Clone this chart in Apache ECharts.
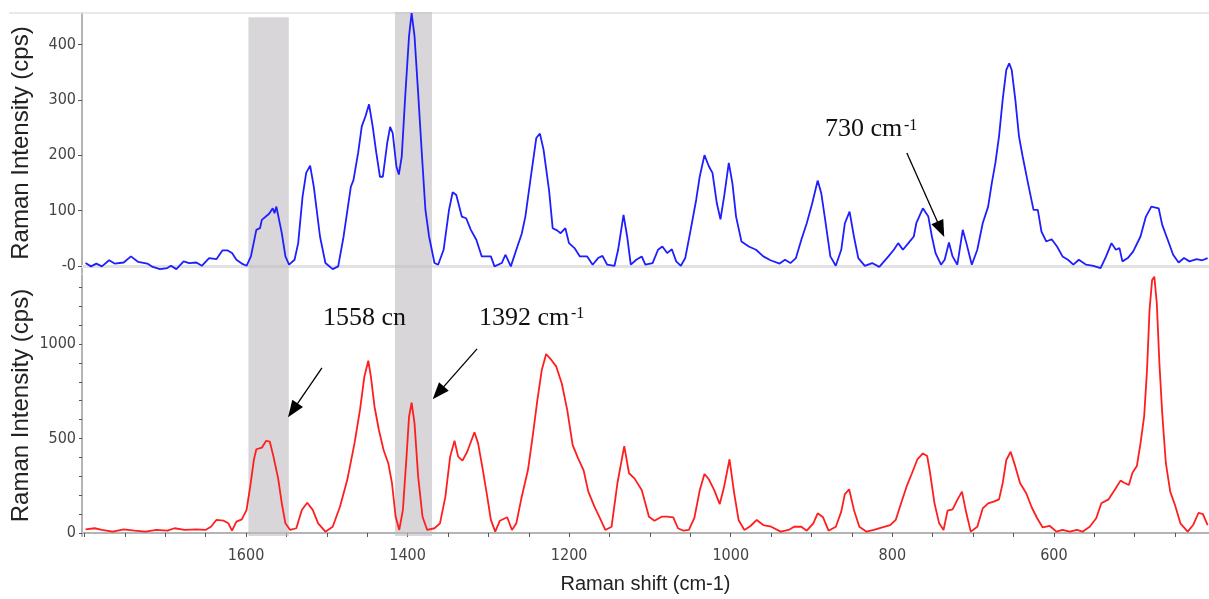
<!DOCTYPE html>
<html>
<head>
<meta charset="utf-8">
<script src="https://cdn.jsdelivr.net/npm/echarts@6/dist/echarts.min.js"></script>
<style>
  html, body { margin: 0; padding: 0; background: #fff; }
  #chart { width: 1209px; height: 599px; }
</style>
</head>
<body>
<div id="chart"></div>
<script>
// 上图（蓝）: 拉曼位移 / 强度
let blueShift = [
    1798.6, 1791.9, 1785.2, 1778.4, 1769.4, 1762.6, 1751.4, 1742.4, 1733.4, 1722.2,
    1715.4, 1706.4, 1697.4, 1692.9, 1686.2, 1677.2, 1670.4, 1661.4, 1654.7, 1645.7,
    1636.7, 1629.0, 1623.2, 1617.3, 1611.9, 1605.2, 1599.3, 1593.9, 1587.2, 1582.7,
    1580.4, 1571.4, 1566.9, 1564.7, 1562.4, 1555.7, 1551.2, 1546.7, 1539.9, 1535.4,
    1530.0, 1525.5, 1520.6, 1516.1, 1508.4, 1501.7, 1492.7, 1485.9, 1479.2, 1470.2,
    1467.0, 1461.2, 1456.7, 1452.2, 1447.7, 1443.2, 1438.7, 1434.2, 1430.6, 1425.2,
    1421.6, 1418.4, 1413.9, 1410.8, 1407.2, 1402.7, 1398.2, 1395.0, 1391.4, 1386.9,
    1382.4, 1377.9, 1373.4, 1366.7, 1362.2, 1355.4, 1348.7, 1344.2, 1339.7, 1332.9,
    1327.5, 1321.7, 1314.9, 1308.2, 1296.9, 1292.4, 1283.4, 1278.9, 1272.2, 1265.4,
    1258.7, 1254.2, 1247.4, 1240.7, 1236.2, 1231.7, 1224.9, 1220.4, 1215.0, 1210.5,
    1204.7, 1200.2, 1193.4, 1186.7, 1177.7, 1170.9, 1164.2, 1158.8, 1152.9, 1143.9,
    1139.4, 1132.7, 1128.2, 1123.7, 1116.9, 1110.2, 1105.7, 1096.7, 1090.0, 1084.6,
    1078.7, 1072.9, 1067.5, 1061.7, 1056.3, 1049.6, 1042.8, 1038.3, 1032.5, 1027.1,
    1022.6, 1017.2, 1012.7, 1008.2, 1002.4, 997.9, 993.4, 986.7, 977.7, 968.7,
    959.7, 950.8, 939.5, 932.8, 926.1, 919.3, 912.6, 905.9, 899.1, 892.4,
    887.9, 882.5, 876.7, 870.0, 863.2, 858.7, 852.9, 847.5, 842.1, 834.0,
    825.0, 816.1, 804.8, 798.1, 792.7, 786.9, 780.1, 773.4, 770.3, 762.2,
    755.4, 751.0, 746.5, 739.7, 735.2, 729.9, 725.4, 719.5, 712.8, 708.3,
    701.6, 694.8, 688.1, 681.4, 676.9, 672.4, 667.9, 663.4, 658.9, 655.3,
    652.2, 647.7, 643.2, 638.7, 632.0, 625.2, 619.9, 615.4, 609.5, 602.8,
    596.1, 589.3, 582.6, 575.9, 569.1, 560.1, 551.2, 542.2, 535.4, 528.7,
    523.3, 518.8, 515.2, 508.5, 501.8, 492.8, 486.1, 479.3, 470.3, 465.9,
    459.1, 452.4, 445.6, 438.9, 432.2, 423.2, 416.4, 409.7
];
let blueIntensity = [
    5, -1, 4, -1, 10, 4, 6, 17, 7, 4,
    -2, -6, -4, 0, -6, 8, 5, 6, 0, 14,
    12, 28, 28, 23, 11, 4, 0, 17, 65, 68,
    83, 94, 104, 95, 107, 59, 17, 2, 11, 41,
    125, 168, 181, 143, 53, 5, -6, -1, 53, 143,
    155, 204, 252, 270, 292, 252, 204, 161, 161, 222,
    251, 240, 180, 165, 198, 312, 415, 457, 415, 312,
    204, 101, 53, 5, 2, 29, 101, 133, 128, 89,
    86, 65, 47, 17, 17, -1, 5, 20, -1, 29,
    58, 89, 161, 231, 239, 210, 137, 68, 64, 59,
    68, 41, 32, 17, 17, 2, 14, 18, 2, 0,
    29, 92, 53, 2, 11, 17, 2, 5, 29, 35,
    23, 30, 8, 0, 14, 65, 119, 162, 200, 180,
    168, 113, 84, 125, 186, 149, 89, 44, 35, 29,
    17, 10, 4, 11, 5, 14, 47, 77, 113, 154,
    131, 77, 17, 0, 29, 77, 98, 53, 14, 0,
    5, -2, 17, 29, 41, 29, 41, 53, 77, 104,
    89, 53, 23, 2, 11, 42, 17, 2, 65, 41,
    2, 29, 77, 107, 149, 186, 234, 300, 354, 366,
    354, 300, 234, 198, 149, 101, 101, 62, 44, 48,
    35, 17, 11, 2, 11, 2, 0, -4, 17, 41,
    29, 32, 8, 14, 26, 53, 89, 107, 104, 74,
    47, 20, 6, 14, 8, 12, 10, 14
];

// 下图（红）
let redShift = [
    1798.6, 1787.4, 1778.4, 1764.9, 1751.4, 1737.9, 1724.4, 1710.9, 1697.4, 1688.4,
    1675.9, 1661.4, 1650.2, 1643.4, 1636.7, 1627.7, 1621.8, 1617.3, 1611.9, 1605.2,
    1599.3, 1594.8, 1590.3, 1587.2, 1580.4, 1575.0, 1570.5, 1566.0, 1560.2, 1555.7,
    1551.2, 1545.3, 1537.7, 1530.9, 1524.2, 1517.4, 1510.7, 1501.7, 1492.7, 1483.7,
    1474.7, 1465.7, 1458.9, 1453.5, 1448.6, 1445.4, 1440.9, 1435.5, 1429.7, 1423.8,
    1419.3, 1414.8, 1410.3, 1405.8, 1401.3, 1398.2, 1395.0, 1391.4, 1386.9, 1381.5,
    1375.7, 1366.7, 1359.9, 1353.2, 1347.3, 1341.9, 1337.4, 1332.0, 1326.2, 1317.2,
    1312.7, 1306.8, 1301.4, 1296.9, 1291.5, 1285.7, 1276.7, 1270.8, 1265.4, 1258.7,
    1251.0, 1245.2, 1239.3, 1233.9, 1228.5, 1222.7, 1215.9, 1209.2, 1202.4, 1195.7,
    1188.9, 1182.2, 1176.3, 1168.7, 1161.9, 1155.2, 1147.5, 1140.3, 1131.8, 1125.9,
    1119.2, 1110.2, 1107.9, 1101.2, 1094.4, 1085.5, 1078.7, 1071.1, 1065.3, 1058.5,
    1051.8, 1045.1, 1038.3, 1032.5, 1027.1, 1020.4, 1013.6, 1008.2, 1001.5, 995.7,
    990.3, 983.1, 975.5, 967.8, 959.7, 949.9, 938.2, 928.3, 921.6, 912.6,
    905.9, 897.8, 892.4, 885.7, 878.9, 869.9, 863.2, 858.7, 853.4, 847.5,
    840.8, 831.8, 822.8, 812.5, 802.6, 795.8, 789.1, 782.4, 775.7, 768.9,
    762.2, 756.8, 753.2, 747.8, 742.0, 736.6, 731.6, 725.4, 719.5, 713.8,
    708.3, 702.9, 694.8, 688.1, 681.4, 674.6, 667.9, 663.4, 658.9, 653.5,
    647.7, 641.8, 634.2, 627.5, 620.7, 614.0, 605.0, 596.9, 589.3, 580.4,
    571.4, 564.6, 555.7, 547.6, 541.3, 532.3, 524.2, 517.5, 513.0, 507.2,
    502.7, 497.3, 492.8, 488.3, 484.7, 481.6, 478.4, 475.7, 472.6, 469.4,
    465.9, 461.4, 456.0, 450.1, 443.4, 434.4, 427.7, 420.9, 415.5, 409.7
];
let redIntensity = [
    19, 25, 16, 7, 19, 12, 7, 16, 12, 25,
    16, 19, 16, 33, 69, 65, 51, 12, 60, 72,
    122, 245, 386, 443, 451, 488, 483, 404, 289, 157,
    51, 16, 25, 122, 160, 122, 51, 7, 33, 139,
    280, 474, 651, 827, 912, 827, 668, 545, 439, 368,
    263, 86, 16, 122, 404, 615, 690, 580, 298, 86,
    16, 25, 51, 192, 404, 488, 404, 383, 430, 533,
    474, 333, 192, 69, 7, 65, 83, 16, 51, 192,
    333, 510, 704, 862, 947, 919, 880, 792, 651, 466,
    395, 333, 219, 139, 78, 16, 33, 263, 460, 316,
    289, 227, 192, 86, 65, 86, 86, 83, 25, 12,
    16, 78, 227, 312, 284, 227, 153, 245, 390, 210,
    69, 16, 37, 69, 42, 33, 7, 16, 33, 33,
    12, 51, 104, 83, 12, 33, 113, 206, 231, 122,
    33, 7, 16, 30, 42, 69, 157, 245, 316, 390,
    421, 407, 316, 157, 51, 16, 118, 125, 175, 219,
    104, 7, 33, 130, 157, 166, 178, 263, 386, 430,
    351, 263, 210, 136, 78, 30, 37, 7, 16, 7,
    16, 7, 33, 78, 157, 178, 231, 277, 266, 254,
    319, 354, 474, 615, 862, 1180, 1339, 1356, 1215, 898,
    633, 369, 219, 148, 51, 7, 42, 107, 100, 42
];

// 刻度
let xTicks = [];
for (let v = 450; v <= 1800; v += 50) xTicks.push(v);
let xLabels = [600, 800, 1000, 1200, 1400, 1600];
let topTicks = [0, 100, 200, 300, 400];
let bottomTicks = [0, 100, 200, 300, 400, 500, 600, 700, 800, 900, 1000, 1100, 1200, 1300];
let bottomLabels = [0, 500, 1000];

// 灰色区域 [起, 止]
let bands = [[1597, 1547], [1415.6, 1369.8]];
let bandTops = [0.99, 1];

// 箭头 [起点, 终点]
let arrowsBottom = [
    [[1506, 873], [1542, 649]],
    [[1314, 974], [1362, 741]]
];
let arrowsTop = [
    [[782, 204], [740, 66]]
];

function pairs(xs, ys) {
    let out = [];
    for (let i = 0; i < xs.length; i++) out.push([xs[i], ys[i]]);
    return out;
}

let myChart = echarts.init(document.getElementById('chart'));

let tickFont = "'Liberation Sans Narrow', 'DejaVu Sans Condensed', sans-serif";
let axisGray = '#b4b4b4';

function arrowLines(list) {
    return list.map(a => [
        {coord: a[0], symbol: 'none'},
        {coord: a[1], symbol: 'triangle', symbolSize: [13, 17]}
    ]);
}

let gridBase = {left: 82, right: 0, containLabel: false, outerBoundsMode: 'none'};

let option = {
    animation: false,
    backgroundColor: '#fff',
    grid: [
        Object.assign({top: 13, height: 260}, gridBase),
        Object.assign({top: 275, height: 261}, gridBase),
        Object.assign({top: 12, height: 524}, gridBase)
    ],
    xAxis: [
        {
            type: 'value', gridIndex: 0, inverse: true, min: 408, max: 1803,
            axisLine: {lineStyle: {color: '#e2e2e2', width: 3}},
            axisTick: {show: false}, axisLabel: {show: false}, splitLine: {show: false}
        },
        {
            type: 'value', gridIndex: 1, inverse: true, min: 408, max: 1803,
            name: 'Raman shift (cm-1)', nameLocation: 'middle', nameGap: 38, nameMoveOverlap: false,
            nameTextStyle: {fontSize: 20, color: '#222', fontFamily: 'Liberation Sans'},
            axisLine: {lineStyle: {color: axisGray, width: 2}},
            axisTick: {customValues: xTicks, length: 4, lineStyle: {color: '#555'}},
            axisLabel: {
                customValues: xLabels, margin: 12, fontSize: 16, color: '#444', fontFamily: tickFont,
                formatter: v => String(v)
            },
            splitLine: {show: false}
        },
        {type: 'value', gridIndex: 2, inverse: true, min: 408, max: 1803, show: false}
    ],
    yAxis: [
        {
            type: 'value', gridIndex: 0, min: -13, max: 457,
            name: 'Raman Intensity (cps)', nameLocation: 'middle', nameGap: 49, nameMoveOverlap: false,
            nameTextStyle: {fontSize: 24, color: '#222', fontFamily: 'Liberation Sans'},
            axisLine: {show: true, lineStyle: {color: axisGray, width: 2}},
            axisTick: {show: true, customValues: topTicks, length: 4, lineStyle: {color: '#555'}},
            axisLabel: {
                customValues: topTicks, margin: 6, fontSize: 16, color: '#444', fontFamily: tickFont,
                formatter: v => v === 0 ? '-0' : String(v)
            },
            splitLine: {show: false}
        },
        {
            type: 'value', gridIndex: 1, min: -16, max: 1365,
            name: 'Raman Intensity (cps)', nameLocation: 'middle', nameGap: 49, nameMoveOverlap: false,
            nameTextStyle: {fontSize: 24, color: '#222', fontFamily: 'Liberation Sans'},
            axisLine: {show: true, lineStyle: {color: axisGray, width: 2}},
            axisTick: {show: true, customValues: bottomTicks, length: 3, lineStyle: {color: '#555'}},
            axisLabel: {
                customValues: bottomLabels, margin: 6, fontSize: 16, color: '#444', fontFamily: tickFont,
                formatter: v => String(v)
            },
            splitLine: {show: false}
        },
        {type: 'value', gridIndex: 2, min: 0, max: 1, show: false}
    ],
    graphic: [
        {type: 'line', z: 1, shape: {x1: 9, y1: 13, x2: 1209, y2: 13}, style: {stroke: '#e2e2e2', lineWidth: 1.5}},
        {type: 'text', z: 3, x: 323, y: 318, style: {text: '1558 cn', font: '26px "Liberation Serif"', fill: '#111', verticalAlign: 'middle'}},
        {type: 'text', z: 3, x: 479, y: 318, style: {text: '1392 cm', font: '26px "Liberation Serif"', fill: '#111', verticalAlign: 'middle'}},
        {type: 'text', z: 3, x: 571, y: 314, style: {text: '-1', font: '16px "Liberation Serif"', fill: '#111', verticalAlign: 'middle'}},
        {type: 'text', z: 3, x: 825, y: 129, style: {text: '730 cm', font: '26px "Liberation Serif"', fill: '#111', verticalAlign: 'middle'}},
        {type: 'text', z: 3, x: 904, y: 126, style: {text: '-1', font: '16px "Liberation Serif"', fill: '#111', verticalAlign: 'middle'}}
    ],
    series: [
        {
            name: 'top', type: 'line', xAxisIndex: 0, yAxisIndex: 0, z: 2,
            data: pairs(blueShift, blueIntensity),
            showSymbol: false, symbol: 'none',
            lineStyle: {color: '#1e1eff', width: 1.8}
        },
        {
            name: 'bottom', type: 'line', xAxisIndex: 1, yAxisIndex: 1, z: 2,
            data: pairs(redShift, redIntensity),
            showSymbol: false, symbol: 'none',
            lineStyle: {color: '#ff1e1e', width: 1.8}
        },
        {
            name: 'bands', type: 'line', xAxisIndex: 2, yAxisIndex: 2, z: 5,
            data: [],
            markArea: {
                silent: true,
                itemStyle: {color: 'rgba(190,187,192,0.6)'},
                data: bands.map((b, i) => [{coord: [b[0], 0]}, {coord: [b[1], bandTops[i]]}])
            }
        },
        {
            name: 'arrowsBottom', type: 'line', xAxisIndex: 1, yAxisIndex: 1, z: 10,
            data: [],
            markLine: {
                silent: true, animation: false,
                label: {show: false},
                lineStyle: {color: '#000', width: 1.3, type: 'solid'},
                itemStyle: {color: '#000'},
                data: arrowLines(arrowsBottom)
            }
        },
        {
            name: 'arrowsTop', type: 'line', xAxisIndex: 0, yAxisIndex: 0, z: 10,
            data: [],
            markLine: {
                silent: true, animation: false,
                label: {show: false},
                lineStyle: {color: '#000', width: 1.3, type: 'solid'},
                itemStyle: {color: '#000'},
                data: arrowLines(arrowsTop)
            }
        }
    ]
};

myChart.setOption(option);
</script>
</body>
</html>
